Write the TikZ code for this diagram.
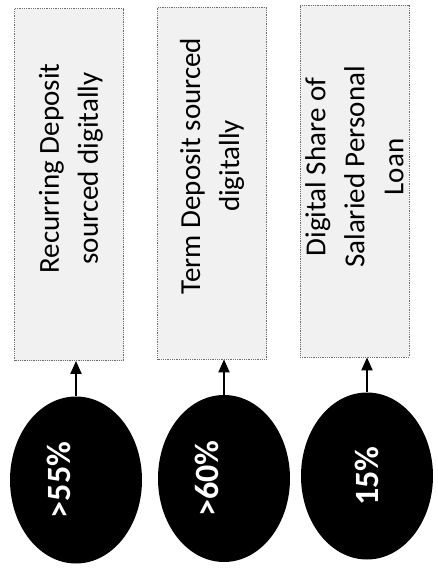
\documentclass[tikz,border=0pt]{standalone}
\usepackage{fontspec}
\setmainfont{Carlito}
\usetikzlibrary{%
	arrows.meta,%
	shapes.geometric,%
	positioning,%
}
\definecolor{cboxfill}{RGB}{241, 241, 241}
\definecolor{cboxline}{RGB}{110, 110, 110}
\tikzset{
	>={Triangle[width=11pt,length=13pt]},%
	nodes={align=center},%
	metricbox/.style={%
			draw=cboxline,%
			densely dotted,%
			line width=0.8pt,%
			rectangle,%
			fill=cboxfill,%
			inner sep=0,%
			minimum width=109pt,%
			minimum height=352pt},%
	metriclabel/.style={%
			rotate=90,%
			inner sep=0,%
			font={\fontsize{29}{39}\selectfont}},%
	valueoval/.style={%
			ellipse,%
			fill=black,%
			inner sep=0,%
			minimum width=132pt,%
			minimum height=167pt},%
	valuelabel/.style={%
			rotate=90,%
			text=white,%
			inner sep=0,%
			font={\fontsize{34}{38}\selectfont\bfseries}},%
	link/.style={->, line width=2pt},%
}

\begin{document}
\begin{tikzpicture}[x=1pt, y=-1pt]%
	\useasboundingbox (0,0) rectangle (438,574);

	% target boxes
	\node[metricbox] (rd) at (69,184.5) {};
	\node[metricbox] (td) at (212,183) {};
	\node[metricbox] (pl) at (354.5,181) {};

	\node[metriclabel] (rdtext) at ([xshift=2pt, yshift=16pt]rd.center) {Recurring Deposit\\sourced digitally};
	\node[metriclabel] (tdtext) at ([yshift=17pt]td.center) {Term Deposit sourced\\digitally};
	\node[metriclabel] (pltext) at ([yshift=14pt]pl.center) {Digital Share of\\Salaried Personal\\Loan};

	% values
	\node[valueoval] (rdval) at (76,480) {};
	\node[valueoval] (tdval) at (224,478.5) {};
	\node[valueoval] (plval) at (367,476) {};

	\node[valuelabel] (rdnum) at ([xshift=-17pt]rdval.center) {>55\%};
	\node[valuelabel] (tdnum) at ([xshift=-17pt]tdval.center) {>60\%};
	\node[valuelabel] (plnum) at (plval.center) {15\%};

	\draw[link] (rdval.north) to (rd.south -| rdval.north);
	\draw[link] (tdval.north) to (td.south -| tdval.north);
	\draw[link] (plval.north) to (pl.south -| plval.north);
\end{tikzpicture}
\end{document}
